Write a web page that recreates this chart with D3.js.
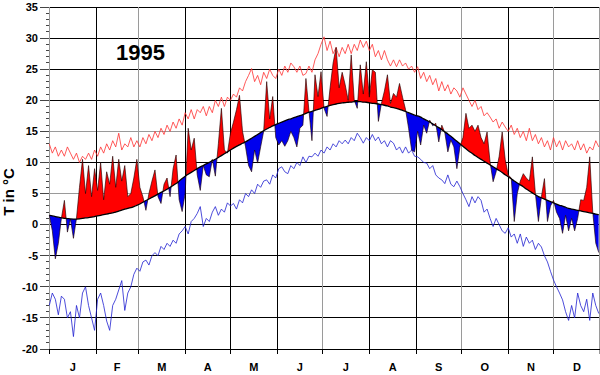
<!DOCTYPE html>
<html>
<head>
<meta charset="utf-8">
<script src="https://cdn.jsdelivr.net/npm/d3@7"></script>
<style>
  body { margin: 0; background: #fff; }
  svg { display: block; }
  text { font-family: "Liberation Sans", Arial, sans-serif; font-weight: bold; }
</style>
</head>
<body>
<div id="chart"></div>
<script>
// month boundaries (day of year) and labels
const monthStarts = [0, 31, 59, 90, 120, 151, 181, 212, 243, 273, 304, 334, 365];
const monthLabels = ["J", "F", "M", "A", "M", "J", "J", "A", "S", "O", "N", "D"];
const yTickValues = [-20, -15, -10, -5, 0, 5, 10, 15, 20, 25, 30, 35];

// one sample every second day, day 0 .. 364
const days = d3.range(0, 365, 2);

// long-term mean (black smooth curve)
const meanT = [
  1.5, 1.4, 1.3, 1.2, 1.1, 1.0, 1.0, 0.9, 0.9, 0.9,
  0.9, 1.0, 1.1, 1.1, 1.2, 1.3, 1.4, 1.5, 1.6, 1.7,
  1.8, 1.9, 2.0, 2.2, 2.3, 2.5, 2.6, 2.7, 2.9, 3.1,
  3.3, 3.6, 3.9, 4.1, 4.4, 4.6, 4.9, 5.2, 5.4, 5.7,
  6.0, 6.3, 6.6, 7.0, 7.4, 7.8, 8.1, 8.4, 8.7, 9.0,
  9.3, 9.5, 9.8, 10.0, 10.3, 10.5, 10.8, 11.1, 11.4, 11.7,
  12.0, 12.3, 12.6, 12.8, 13.1, 13.3, 13.6, 13.9, 14.2, 14.5,
  14.8, 15.1, 15.4, 15.6, 15.9, 16.1, 16.3, 16.5, 16.7, 16.9,
  17.0, 17.2, 17.4, 17.5, 17.7, 17.9, 18.1, 18.2, 18.4, 18.5,
  18.7, 18.9, 19.0, 19.2, 19.3, 19.4, 19.5, 19.6, 19.6, 19.7,
  19.7, 19.8, 19.8, 19.8, 19.7, 19.7, 19.6, 19.5, 19.5, 19.4,
  19.3, 19.2, 19.1, 18.9, 18.8, 18.7, 18.5, 18.4, 18.2, 18.0,
  17.8, 17.6, 17.5, 17.3, 17.0, 16.8, 16.5, 16.2, 15.9, 15.6,
  15.3, 14.9, 14.6, 14.2, 13.8, 13.4, 13.0, 12.6, 12.2, 11.8,
  11.5, 11.1, 10.8, 10.5, 10.2, 9.9, 9.6, 9.3, 9.0, 8.7,
  8.4, 8.0, 7.7, 7.4, 7.0, 6.7, 6.4, 6.1, 5.7, 5.4,
  5.1, 4.8, 4.5, 4.3, 4.1, 3.9, 3.7, 3.5, 3.3, 3.1,
  3.0, 2.8, 2.6, 2.5, 2.4, 2.3, 2.2, 2.1, 2.0, 1.9,
  1.8, 1.7, 1.6
];

// daily mean temperature 1995
const dayT = [
  1.5, -1.0, -5.5, -3.0, 1.0, 3.9, -1.2, 0.9, -2.2, 1.0,
  6.0, 10.5, 5.0, 9.5, 4.5, 9.0, 5.5, 10.0, 4.0, 8.5,
  6.5, 11.0, 6.0, 10.5, 7.0, 9.5, 4.5, 5.0, 7.5, 10.5,
  6.0, 4.5, 2.3, 5.0, 7.0, 8.8, 4.5, 3.4, 6.5, 7.5,
  4.5, 9.0, 11.2, 4.0, 2.1, 5.0, 15.5, 12.0, 13.9, 8.0,
  5.5, 9.5, 8.0, 7.7, 10.5, 7.8, 13.0, 18.7, 12.0, 11.5,
  14.7, 16.5, 18.5, 20.8, 15.0, 12.5, 9.5, 8.5, 12.0, 9.9,
  12.5, 15.0, 23.0, 17.0, 20.6, 14.0, 12.8, 13.5, 12.6, 13.5,
  15.0, 14.0, 12.5, 15.5, 16.0, 23.5, 18.3, 13.5, 24.1, 20.6,
  24.6, 18.7, 17.4, 22.0, 26.0, 28.5, 22.0, 24.5, 22.5, 20.0,
  27.3, 20.0, 18.7, 25.7, 21.0, 26.2, 20.5, 24.9, 24.5, 16.6,
  19.5, 21.5, 24.1, 19.5, 21.1, 20.5, 22.7, 20.5, 18.5, 15.5,
  12.0, 11.7, 15.0, 12.8, 16.0, 14.7, 16.8, 15.9, 16.3, 13.3,
  16.0, 14.8, 11.7, 13.6, 12.5, 9.0, 12.5, 14.0, 17.9, 15.5,
  16.0, 15.0, 16.0, 14.0, 13.0, 14.9, 10.0, 6.9, 8.5, 11.0,
  14.9, 10.5, 8.0, 7.5, 0.5, 5.0, 7.0, 8.2, 7.5, 7.0,
  10.9, 5.0, 0.5, 4.5, 7.4, 0.5, 3.0, 3.9, 2.0, 1.0,
  -1.4, 1.5, -1.0, 1.0, -1.0, 1.0, 4.0, 3.9, 6.0, 10.9,
  2.0, -3.0, -4.5
];

// highest daily means (thin red line)
const maxT = [
  13, 11.5, 12.5, 11, 12, 11, 12.5, 11.5, 10.5, 11.5,
  10, 11, 10.5, 11.5, 10.5, 12, 11, 12.5, 11.5, 13,
  12, 13.5, 12.5, 14.7, 12, 13, 12.5, 14, 12.5, 13.5,
  12.5, 14, 13, 14.5, 13.5, 15, 14, 15.5, 14.5, 16,
  15, 16.5, 15.5, 17, 16, 18, 17, 18.5, 17, 18.5,
  18, 19, 17.5, 19, 18, 20, 19, 20.5, 19, 20.5,
  20, 21, 20.5, 22, 21.5, 23, 24, 25.1, 23, 24,
  22.5, 24.5, 23.5, 25, 24, 23.5, 25, 24, 25.5, 24.5,
  26, 25.4, 24.5, 25.5, 24, 24.3, 25.5, 24.5, 26.5, 27.5,
  29, 30.2, 28, 29.5, 27.5, 28.5, 27, 28.5, 27.5, 29,
  27.5, 29, 28, 29.7, 28.5, 29.5, 28, 29, 27, 28,
  26.5, 28, 26.5, 25.5, 26.5, 25.4, 26.5, 25.5, 26, 25,
  25.5, 24.5, 25.4, 23.5, 24.5, 23, 24, 22.5, 23.5, 21.5,
  23, 21.5, 22.5, 21, 22, 21.5, 20.5, 22, 21, 20,
  19, 20, 18.5, 19, 17.5, 18, 17.3, 16.5, 17, 15.5,
  16.5, 15.7, 15, 16, 14.5, 15.5, 14, 15, 13.5, 15.5,
  13.5, 14.5, 13, 14, 12.5, 13.5, 12, 14, 12.5, 13.5,
  12, 13.5, 12.5, 13, 12, 13.5, 12, 13, 11.5, 12.5,
  12, 13.5, 12.5
];

// lowest daily means (thin blue line)
const minT = [
  -13, -11, -12, -14.5, -11.5, -12, -15, -14, -18, -13,
  -15, -11, -10, -13, -15, -17, -12, -11, -13, -15.5,
  -17, -13, -12, -10.5, -9, -13.8, -11, -10, -8, -7,
  -7.5, -6, -5.7, -6.5, -5, -4.5, -5, -3.5, -4, -3,
  -3.5, -2.5, -3, -1.5, -1, -0.3, -1.5, 0.5, 1, 1.8,
  2.9, -0.3, 1, 0.5, 2, 2.9, 1.5, 2.5, 2, 3.5,
  3, 3.4, 2.5, 4, 3.5, 5, 4.5, 5.6, 5, 6.5,
  6, 7, 7.2, 6.5, 8, 7.5, 9, 9.3, 8.5, 8.2,
  9.5, 9, 10, 9.5, 10.9, 10, 11, 10.9, 11.5, 11,
  12, 11.5, 12.5, 12, 13, 12.5, 13.5, 13, 13.6, 13,
  14, 13.5, 14.7, 14, 13.1, 14, 13.5, 14.5, 13.5, 14.1,
  13, 13.5, 12.5, 13.5, 13.1, 12, 12.5, 11.5, 12.5, 11.5,
  12, 11, 10.9, 10.5, 10, 9.9, 9, 9.5, 8, 7.5,
  7.2, 6.6, 8, 6.5, 6.1, 7, 6.1, 5, 4, 2.9,
  4.5, 3.5, 4.5, 3.9, 2, 2.5, 1, -0.3, 1, 0,
  -1, -1.4, -0.5, -2, -1.5, -3, -1.5, -3.5, -2, -3,
  -2.5, -4, -3, -3.6, -5, -6, -7.5, -8.9, -10, -11,
  -12.1, -14, -15.4, -13, -15, -11, -13, -14, -12, -15.4,
  -11, -13, -14.3
];

const data = days.map((d, i) => ({day: d, mean: meanT[i], t: dayT[i], hi: maxT[i], lo: minT[i]}));

const width = 600, height = 375;
const plotLeft = 49.3, plotRight = 600.3, plotTop = 7, plotBottom = 349;

const svg = d3.select("#chart")
  .append("svg")
  .attr("width", width)
  .attr("height", height);

const x = d3.scaleLinear().domain([0, 365]).range([plotLeft, plotRight]);
const y = d3.scaleLinear().domain([-20, 35]).range([plotBottom, plotTop]);

// snap a coordinate to the pixel grid
const crisp = v => Math.round(v - 0.5) + 0.5;

// horizontal grid (some rows look grey in the original)
const greyRows = [5, 15];
svg.append("g")
  .selectAll("line")
  .data(yTickValues)
  .join("line")
  .attr("x1", plotLeft).attr("x2", width)
  .attr("y1", d => crisp(y(d))).attr("y2", d => crisp(y(d)))
  .attr("stroke", d => greyRows.includes(d) ? "#9a9a9a" : "#000")
  .attr("stroke-width", 1);

// vertical month grid
const greyCols = [59, 181, 273, 334];
svg.append("g")
  .selectAll("line")
  .data(monthStarts.slice(1, 12))
  .join("line")
  .attr("x1", d => crisp(x(d))).attr("x2", d => crisp(x(d)))
  .attr("y1", plotTop).attr("y2", plotBottom + 5)
  .attr("stroke", d => greyCols.includes(d) ? "#9a9a9a" : "#000")
  .attr("stroke-width", 1);

// right frame edge
svg.append("line")
  .attr("x1", width - 0.5).attr("x2", width - 0.5)
  .attr("y1", plotTop).attr("y2", plotBottom + 5)
  .attr("stroke", "#9a9a9a");

// left axis with minor ticks
svg.append("line")
  .attr("x1", 49.5).attr("x2", 49.5)
  .attr("y1", plotTop).attr("y2", plotBottom)
  .attr("stroke", "#9a9a9a");

svg.append("g")
  .selectAll("line")
  .data(d3.range(-20, 36, 1))
  .join("line")
  .attr("x1", d => d % 5 === 0 ? 40 : 46).attr("x2", 49)
  .attr("y1", d => crisp(y(d))).attr("y2", d => crisp(y(d)))
  .attr("stroke", "#444");

svg.append("g")
  .selectAll("text")
  .data(yTickValues)
  .join("text")
  .attr("x", 38)
  .attr("y", d => y(d))
  .attr("dy", "0.35em")
  .attr("text-anchor", "end")
  .style("font-size", "11px")
  .text(d => d);

// bottom month ticks and labels
svg.append("line")
  .attr("x1", plotLeft).attr("x2", width)
  .attr("y1", plotBottom + 0.5).attr("y2", plotBottom + 0.5)
  .attr("stroke", "#000");

svg.append("g")
  .selectAll("line")
  .data(monthStarts)
  .join("line")
  .attr("x1", d => crisp(x(d))).attr("x2", d => crisp(x(d)))
  .attr("y1", plotBottom).attr("y2", plotBottom + 5)
  .attr("stroke", "#000");

svg.append("g")
  .selectAll("text")
  .data(monthLabels)
  .join("text")
  .attr("x", (d, i) => x((monthStarts[i] + monthStarts[i + 1]) / 2))
  .attr("y", 371)
  .attr("text-anchor", "middle")
  .style("font-size", "11px")
  .text(d => d);

// extreme lines
const lineHi = d3.line().x(d => x(d.day)).y(d => y(d.hi));
const lineLo = d3.line().x(d => x(d.day)).y(d => y(d.lo));

svg.append("path")
  .datum(data)
  .attr("fill", "none")
  .attr("stroke", "#ff3030")
  .attr("stroke-width", 0.8)
  .attr("d", lineHi);

svg.append("path")
  .datum(data)
  .attr("fill", "none")
  .attr("stroke", "#2020d0")
  .attr("stroke-width", 0.8)
  .attr("d", lineLo);

// difference fill: red above mean, blue below
const defs = svg.append("defs");
defs.append("clipPath").attr("id", "clip-above")
  .append("path").datum(data)
  .attr("d", d3.area().x(d => x(d.day)).y0(0).y1(d => y(d.mean)));
defs.append("clipPath").attr("id", "clip-below")
  .append("path").datum(data)
  .attr("d", d3.area().x(d => x(d.day)).y0(height).y1(d => y(d.mean)));

const diffArea = d3.area()
  .x(d => x(d.day))
  .y0(d => y(d.mean))
  .y1(d => y(d.t));

svg.append("path")
  .datum(data)
  .attr("clip-path", "url(#clip-above)")
  .attr("fill", "#ff0000")
  .attr("d", diffArea);

svg.append("path")
  .datum(data)
  .attr("clip-path", "url(#clip-below)")
  .attr("fill", "#0000ee")
  .attr("d", diffArea);

// outline of the daily values
svg.append("path")
  .datum(data)
  .attr("fill", "none")
  .attr("stroke", "#200000")
  .attr("stroke-opacity", 0.8)
  .attr("stroke-width", 0.8)
  .attr("d", d3.line().x(d => x(d.day)).y(d => y(d.t)));

// mean curve
svg.append("path")
  .datum(data)
  .attr("fill", "none")
  .attr("stroke", "#000")
  .attr("stroke-width", 1.3)
  .attr("d", d3.line().curve(d3.curveBasis).x(d => x(d.day)).y(d => y(d.mean)));

// year title
svg.append("text")
  .attr("x", 116)
  .attr("y", 60)
  .style("font-size", "22px")
  .text("1995");

// y axis title
svg.append("text")
  .attr("transform", "translate(14,192) rotate(-90)")
  .attr("text-anchor", "middle")
  .style("font-size", "15px")
  .text("T in °C");
</script>
</body>
</html>
